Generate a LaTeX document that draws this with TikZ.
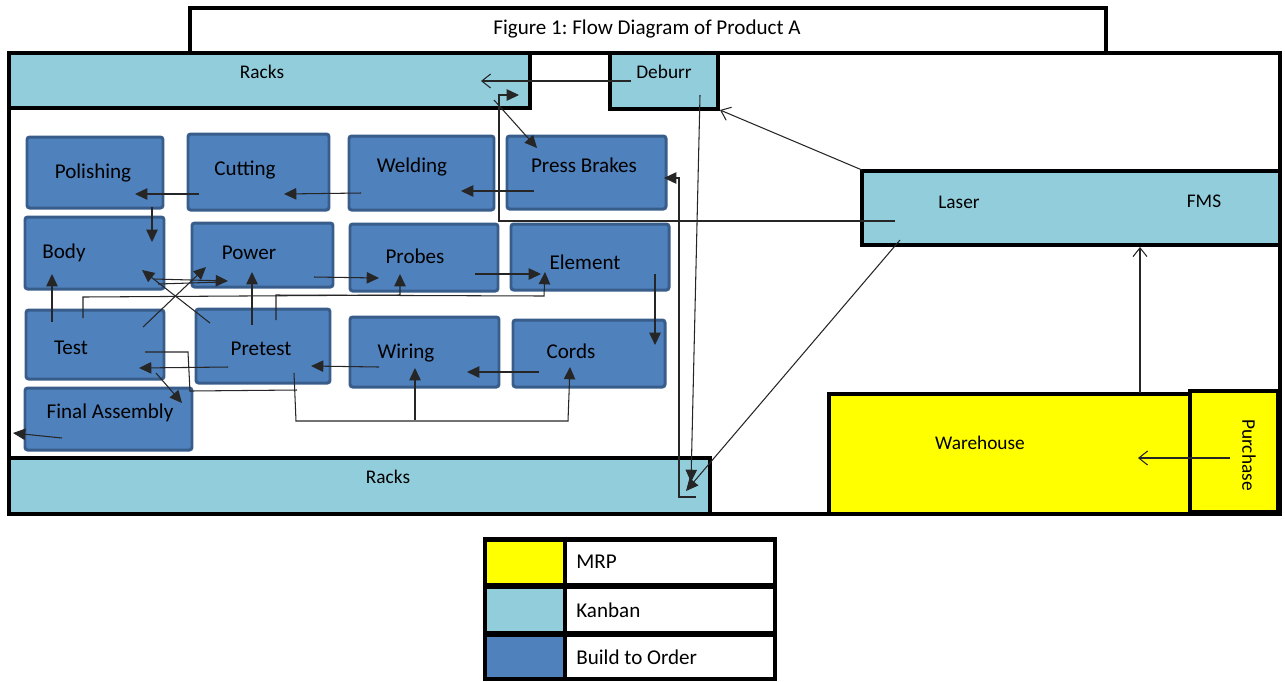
\documentclass[tikz,border=0pt]{standalone}
\usepackage{fontspec}
\setmainfont{Carlito}
\usetikzlibrary{arrows.meta,fit}
\definecolor{kanban}{HTML}{92CDDC}
\definecolor{bto}{HTML}{4F81BD}
\definecolor{btoedge}{HTML}{385D8A}
\definecolor{mrp}{HTML}{FFFF00}
\frenchspacing
\begin{document}
\begin{tikzpicture}[x=0.02cm,y=-0.02cm,
  area/.style={draw=black,line width=2.2pt,inner sep=0pt},
  kb/.style={area,fill=kanban},
  mrpbox/.style={area,fill=mrp},
  btobox/.style={draw=btoedge,fill=bto,line width=1.7pt,rounded corners=1.5pt,inner sep=0pt},
  lbl/.style={font=\fontsize{12}{14}\selectfont,inner sep=0pt},
  slbl/.style={font=\fontsize{11}{13}\selectfont,inner sep=0pt},
  conn/.style={draw=black!85,line width=0.6pt},
  fa/.style={conn,-{Triangle[length=7pt,width=6.5pt]}},
  oa/.style={conn,-{Straight Barb[length=5pt,width=8pt]}},
]
\useasboundingbox (0,0) rectangle (1285,681);
% building frame and title
\node[draw=black,line width=2pt,inner sep=0pt,fit={(9,53) (1280,514)}] (building) {};
\node[area,fill=white,fit={(190,8) (1106,53)}] (title) {};
\node[lbl] (titleT) at (647,29) {Figure 1: Flow Diagram of Product A};
% kanban / mrp areas
\node[kb,fit={(9,53) (530,108)}] (racksTop) {};
\node[slbl] (racksTopT) at (262,72) {Racks};
\node[kb,fit={(610,53) (718,109)}] (deburr) {};
\node[slbl] (deburrT) at (664,72) {Deburr};
\node[kb,fit={(862,171) (1280,245)}] (laser) {};
\node[slbl] (laserT) at (959,202) {Laser};
\node[slbl] (fmsT) at (1204,201) {FMS};
\node[kb,fit={(9,458) (710,514)}] (racksBot) {};
\node[slbl] (racksBotT) at (388,477) {Racks};
\node[mrpbox,fit={(829,394) (1190,514)}] (warehouse) {};
\node[slbl] (warehouseT) at (980,443) {Warehouse};
\node[mrpbox,fit={(1190,391) (1278,512)}] (purchase) {};
\node[slbl,rotate=-90] (purchaseT) at (1249,455) {Purchase};
% build to order blocks
\node[btobox,fit={(27,137) (163,208)}] (polishing) {};
\node[lbl] (polishingT) at (93,173) {Polishing};
\node[btobox,fit={(188,134) (329,210)}] (cutting) {};
\node[lbl] (cuttingT) at (245,170) {Cutting};
\node[btobox,fit={(349,136) (494,210)}] (welding) {};
\node[lbl] (weldingT) at (412,167) {Welding};
\node[btobox,fit={(507,136) (666,209)}] (press) {};
\node[lbl] (pressT) at (584,165) {Press Brakes};
\node[btobox,fit={(25,217) (164,289)}] (body) {};
\node[lbl] (bodyT) at (64,253) {Body};
\node[btobox,fit={(192,223) (333,287)}] (power) {};
\node[lbl] (powerT) at (249,253) {Power};
\node[btobox,fit={(350,224) (498,291)}] (probes) {};
\node[lbl] (probesT) at (415,256) {Probes};
\node[btobox,fit={(511,224) (669,290)}] (element) {};
\node[lbl] (elementT) at (585,262) {Element};
\node[btobox,fit={(26,310) (164,379)}] (test) {};
\node[lbl] (testT) at (71,348) {Test};
\node[btobox,fit={(196,309) (330,383)}] (pretest) {};
\node[lbl] (pretestT) at (261,349) {Pretest};
\node[btobox,fit={(350,317) (499,387)}] (wiring) {};
\node[lbl] (wiringT) at (406,353) {Wiring};
\node[btobox,fit={(513,320) (665,387)}] (cords) {};
\node[lbl] (cordsT) at (571,351) {Cords};
\node[btobox,fit={(25,388) (192,450)}] (final) {};
\node[lbl] (finalT) at (110,413) {Final Assembly};
% legend
\node[fill=black,inner sep=0pt,fit={(483,537) (777,681)}] (legend) {};
\node[fill=mrp,inner sep=0pt,fit={(487,542) (563,583)}] (lgMrp) {};
\node[fill=white,inner sep=0pt,fit={(567,542) (773,583)}] (lgMrpC) {};
\node[lbl,anchor=west] (lgMrpT) at (576,562) {MRP};
\node[fill=kanban,inner sep=0pt,fit={(487,589) (563,631)}] (lgKb) {};
\node[fill=white,inner sep=0pt,fit={(567,589) (773,631)}] (lgKbC) {};
\node[lbl,anchor=west] (lgKbT) at (576,610) {Kanban};
\node[fill=bto,inner sep=0pt,fit={(487,637) (563,677)}] (lgBto) {};
\node[fill=white,inner sep=0pt,fit={(567,637) (773,677)}] (lgBtoC) {};
\node[lbl,anchor=west] (lgBtoT) at (576,657) {Build to Order};
% connector end points
\coordinate (a1) at (631,81);  \coordinate (a2) at (481,81);
\coordinate (b1) at (895,221); \coordinate (b2) at (499,221); \coordinate (b3) at (499,95); \coordinate (b4) at (519,95);
\coordinate (c1) at (494,100); \coordinate (c2) at (537,148);
\coordinate (d1) at (534,191); \coordinate (d2) at (461,191);
\coordinate (e1) at (361,193); \coordinate (e2) at (284,194);
\coordinate (f1) at (199,194); \coordinate (f2) at (135,194);
\coordinate (g1) at (152,207); \coordinate (g2) at (152,242);
\coordinate (h1) at (696,497); \coordinate (h2) at (679,497); \coordinate (h3) at (679,178); \coordinate (h4) at (664,178);
\coordinate (i1) at (700,95);  \coordinate (i2) at (691,482);
\coordinate (j1) at (900,240); \coordinate (j2) at (686,491);
\coordinate (k1) at (862,170); \coordinate (k2) at (720,110);
\coordinate (l1) at (1140,393); \coordinate (l2) at (1140,247);
\coordinate (m1) at (1230,458); \coordinate (m2) at (1138,458);
\coordinate (n1) at (154,279); \coordinate (n2) at (228,281);
\coordinate (n3) at (158,284); \coordinate (n4) at (222,282);
\coordinate (o1) at (210,323); \coordinate (o2) at (142,270);
\coordinate (p1) at (143,327); \coordinate (p2) at (206,267);
\coordinate (q1) at (314,277); \coordinate (q2) at (379,278);
\coordinate (r1) at (475,274); \coordinate (r2) at (541,274);
\coordinate (s1) at (655,274); \coordinate (s2) at (655,345);
\coordinate (t1) at (539,372); \coordinate (t2) at (467,372);
\coordinate (u1) at (379,367); \coordinate (u2) at (311,366);
\coordinate (v1) at (228,367); \coordinate (v2) at (139,368);
\coordinate (w1) at (252,325); \coordinate (w2) at (252,272);
\coordinate (x1) at (52,322);  \coordinate (x2) at (52,274);
\coordinate (y1) at (83,318);  \coordinate (y2) at (83,297); \coordinate (y3) at (400,295); \coordinate (y4) at (400,274);
\coordinate (z1) at (276,320); \coordinate (z2) at (276,295); \coordinate (z3) at (544,296); \coordinate (z4) at (545,272);
\coordinate (aa1) at (156,373); \coordinate (aa2) at (182,403);
\coordinate (bb1) at (145,352); \coordinate (bb2) at (188,352); \coordinate (bb3) at (190,391); \coordinate (bb4) at (297,390);
\coordinate (cc1) at (294,373); \coordinate (cc2) at (296,421); \coordinate (cc3) at (568,421); \coordinate (cc4) at (570,367);
\coordinate (dd1) at (415,420); \coordinate (dd2) at (415,368);
\coordinate (ee1) at (62,438); \coordinate (ee2) at (13,433);
% connectors
\draw[oa] (a1) -- (a2);
\draw[fa] (b1) -- (b2) -- (b3) -- (b4);
\draw[fa] (c1) -- (c2);
\draw[fa] (d1) -- (d2);
\draw[fa] (e1) -- (e2);
\draw[fa] (f1) -- (f2);
\draw[fa] (g1) -- (g2);
\draw[fa] (h1) -- (h2) -- (h3) -- (h4);
\draw[fa] (i1) -- (i2);
\draw[fa] (j1) -- (j2);
\draw[oa] (k1) -- (k2);
\draw[oa] (l1) -- (l2);
\draw[oa] (m1) -- (m2);
\draw[fa] (n1) -- (n2);
\draw[conn] (n3) -- (n4);
\draw[fa] (o1) -- (o2);
\draw[fa] (p1) -- (p2);
\draw[fa] (q1) -- (q2);
\draw[fa] (r1) -- (r2);
\draw[fa] (s1) -- (s2);
\draw[fa] (t1) -- (t2);
\draw[fa] (u1) -- (u2);
\draw[fa] (v1) -- (v2);
\draw[fa] (w1) -- (w2);
\draw[fa] (x1) -- (x2);
\draw[fa] (y1) -- (y2) -- (y3) -- (y4);
\draw[fa] (z1) -- (z2) -- (z3) -- (z4);
\draw[fa] (aa1) -- (aa2);
\draw[conn] (bb1) -- (bb2) -- (bb3) -- (bb4);
\draw[fa] (cc1) -- (cc2) -- (cc3) -- (cc4);
\draw[fa] (dd1) -- (dd2);
\draw[fa] (ee1) -- (ee2);
\end{tikzpicture}
\end{document}
